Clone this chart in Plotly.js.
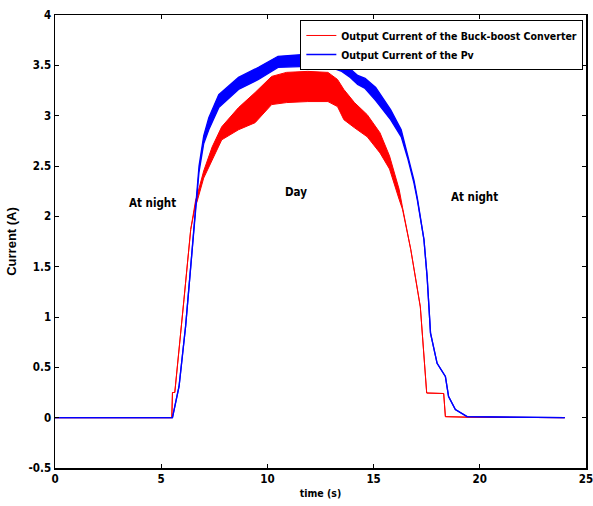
<!DOCTYPE html>
<html>
<head>
<meta charset="utf-8">
<script src="https://cdn.plot.ly/plotly-3.0.1.min.js"></script>
<style>html,body{margin:0;padding:0;background:#fff;}#chart{width:593px;height:506px;}</style>
</head>
<body>
<div id="chart"></div>
<script>
// Time samples (s) and envelope values (A)
const redTime  = [0, 5.50, 5.53, 5.64, 6.07, 6.39, 6.62, 6.68, 7.0, 7.4, 7.85, 8.64, 9.42, 10.2, 10.9, 11.9, 12.85, 13.3, 13.6, 14.1, 14.7, 15.3, 15.75, 16.2, 16.36, 16.75, 17.2, 17.5, 18.3, 18.38, 19.4, 24];
const redLower = [0, 0, 0.25, 0.25, 1.17, 1.87, 2.12, 2.14, 2.38, 2.56, 2.76, 2.86, 2.93, 3.11, 3.13, 3.14, 3.14, 3.09, 2.96, 2.88, 2.79, 2.63, 2.47, 2.17, 2.07, 1.67, 1.10, 0.245, 0.24, 0.01, 0.005, 0];
const redUpper = [0, 0, 0.25, 0.25, 1.17, 1.87, 2.16, 2.20, 2.45, 2.69, 2.89, 3.08, 3.23, 3.39, 3.43, 3.44, 3.43, 3.36, 3.26, 3.13, 3.01, 2.83, 2.60, 2.27, 2.09, 1.67, 1.10, 0.245, 0.24, 0.01, 0.005, 0];

const blueTime  = [0, 5.53, 5.84, 6.15, 6.39, 6.54, 6.62, 6.78, 7.0, 7.24, 7.71, 8.64, 9.58, 10.5, 11.9, 12.85, 13.5, 13.9, 14.25, 14.6, 15.1, 15.8, 16.3, 16.6, 16.9, 17.06, 17.37, 17.52, 17.68, 17.99, 18.38, 18.53, 18.85, 19.4, 24];
const blueLower = [0, 0, 0.31, 0.91, 1.50, 1.87, 2.03, 2.44, 2.72, 2.86, 3.08, 3.26, 3.36, 3.48, 3.49, 3.49, 3.44, 3.38, 3.31, 3.27, 3.15, 2.96, 2.79, 2.58, 2.33, 2.16, 1.77, 1.40, 0.84, 0.54, 0.41, 0.21, 0.08, 0.01, 0];
const blueUpper = [0, 0, 0.31, 0.91, 1.50, 1.87, 2.07, 2.50, 2.80, 2.98, 3.21, 3.38, 3.48, 3.59, 3.61, 3.59, 3.54, 3.46, 3.40, 3.37, 3.28, 3.06, 2.86, 2.61, 2.36, 2.18, 1.77, 1.40, 0.84, 0.54, 0.41, 0.21, 0.08, 0.01, 0];

const seriesNames = ['Output Current of the Buck-boost Converter', 'Output Current of the Pv'];
const xTicks = [0, 5, 10, 15, 20, 25];
const yTicks = [-0.5, 0, 0.5, 1, 1.5, 2, 2.5, 3, 3.5, 4];
const notes = ['At night', 'Day', 'At night'];

const RED = '#ff0000', BLUE = '#0000ff';
const narrow = 'DejaVu Sans Condensed, Liberation Sans Narrow, Arial Narrow, sans-serif';

const traces = [
  {x: redTime, y: redLower, mode: 'lines', line: {color: RED, width: 1}, name: seriesNames[0], showlegend: true},
  {x: redTime, y: redUpper, mode: 'lines', line: {color: RED, width: 1}, fill: 'tonexty', fillcolor: RED, showlegend: false, hoverinfo: 'skip'},
  {x: blueTime, y: blueLower, mode: 'lines', line: {color: BLUE, width: 1.3}, name: seriesNames[1], showlegend: true},
  {x: blueTime, y: blueUpper, mode: 'lines', line: {color: BLUE, width: 1.3}, fill: 'tonexty', fillcolor: BLUE, showlegend: false, hoverinfo: 'skip'}
];

const axisCommon = {
  showgrid: false, zeroline: false, showline: true, mirror: 'ticks',
  linecolor: '#000', linewidth: 1.5, ticks: 'inside', ticklen: 4, tickcolor: '#000', tickwidth: 1,
  ticklabeloverflow: 'allow',
  tickfont: {family: narrow, size: 11.5, color: '#000', weight: 'bold'}
};

const layout = {
  width: 593, height: 506,
  margin: {l: 55, r: 7, t: 15, b: 38},
  paper_bgcolor: '#fff', plot_bgcolor: '#fff',
  xaxis: Object.assign({}, axisCommon, {
    range: [0, 25], tickvals: xTicks, ticktext: xTicks.map(String),
    title: {text: '<b>time (s)</b>', font: {family: narrow, size: 10.5, color: '#000'}, standoff: 4}
  }),
  yaxis: Object.assign({}, axisCommon, {
    range: [-0.5, 4], tickvals: yTicks, ticktext: yTicks.map(String),
    title: {text: '<b>Current (A)</b>', font: {family: 'Liberation Sans, Arial, sans-serif', size: 13, color: '#000'}, standoff: 9}
  }),
  legend: {
    x: 0.995, xanchor: 'right', y: 0.989, yanchor: 'top',
    traceorder: 'normal', itemwidth: 30,
    bgcolor: '#fff', bordercolor: '#000', borderwidth: 1,
    font: {family: narrow, size: 10.5, color: '#000', weight: 'bold'},
    tracegroupgap: 0
  },
  annotations: [
    {x: 4.58, y: 2.13, text: notes[0]},
    {x: 11.36, y: 2.24, text: notes[1]},
    {x: 19.77, y: 2.19, text: notes[2]}
  ].map(a => Object.assign(a, {xref: 'x', yref: 'y', showarrow: false, font: {family: narrow, size: 11.5, color: '#000', weight: 'bold'}})),
  showlegend: true
};

Plotly.newPlot('chart', traces, layout, {displayModeBar: false, staticPlot: true});
</script>
</body>
</html>
